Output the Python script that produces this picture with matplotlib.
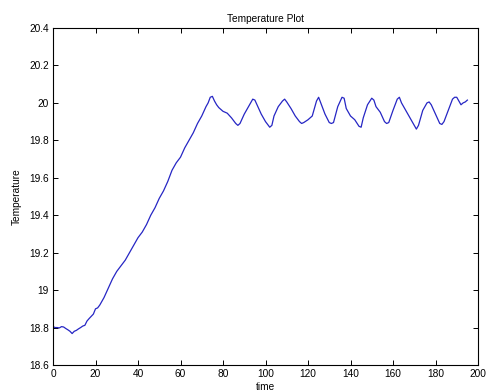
import matplotlib
matplotlib.use("Agg")
import matplotlib.pyplot as plt
from matplotlib.ticker import FuncFormatter, MultipleLocator

time = [0, 1, 2, 3, 4, 5, 6, 7, 8, 9, 10, 11, 12, 13, 14, 15, 16, 17, 18, 19,
        20, 21, 22, 24, 26, 28, 30, 32, 34, 36, 38, 40, 42, 44, 46, 48, 50,
        52, 54, 56, 58, 60, 62, 64, 66, 68, 70, 72, 73, 74, 75, 76, 77, 78,
        79, 80, 82, 84, 86, 87, 88, 90, 92, 94, 95, 96, 98, 100, 102, 103,
        104, 106, 108, 109, 110, 112, 114, 116, 117, 118, 120, 122, 124, 125,
        126, 128, 130, 131, 132, 134, 136, 137, 138, 140, 142, 144, 145, 146,
        148, 150, 151, 152, 154, 156, 157, 158, 160, 162, 163, 164, 166, 168,
        170, 171, 172, 174, 176, 177, 178, 180, 182, 183, 184, 186, 188, 189,
        190, 191, 192, 193, 194, 195]
temperature = [18.805, 18.800, 18.800, 18.798, 18.805, 18.803, 18.795, 18.788,
               18.780, 18.768, 18.780, 18.785, 18.793, 18.800, 18.808, 18.812,
               18.835, 18.848, 18.860, 18.872, 18.900, 18.905, 18.920, 18.960,
               19.010, 19.060, 19.100, 19.130, 19.160, 19.200, 19.240, 19.280,
               19.310, 19.350, 19.400, 19.440, 19.490, 19.530, 19.580, 19.640,
               19.680, 19.710, 19.760, 19.800, 19.840, 19.890, 19.930, 19.980,
               20.000, 20.030, 20.035, 20.010, 19.990, 19.975, 19.965, 19.955,
               19.945, 19.920, 19.890, 19.880, 19.890, 19.940, 19.980, 20.020,
               20.015, 19.990, 19.940, 19.900, 19.870, 19.880, 19.930, 19.980,
               20.010, 20.020, 20.005, 19.970, 19.930, 19.900, 19.890, 19.895,
               19.910, 19.930, 20.010, 20.030, 20.000, 19.940, 19.895, 19.890,
               19.895, 19.980, 20.030, 20.025, 19.970, 19.930, 19.910, 19.875,
               19.870, 19.920, 19.990, 20.025, 20.015, 19.980, 19.950, 19.900,
               19.890, 19.895, 19.960, 20.020, 20.030, 20.000, 19.960, 19.920,
               19.880, 19.860, 19.880, 19.960, 20.000, 20.005, 19.990, 19.940,
               19.890, 19.885, 19.900, 19.960, 20.020, 20.030, 20.030, 20.010,
               19.990, 20.000, 20.005, 20.015]

plt.rcParams['font.family'] = ['Liberation Sans', 'DejaVu Sans']
fig = plt.figure(figsize=(4.86, 3.92), dpi=100)
ax = fig.add_axes([53/486, 1 - 365/392, (478 - 53)/486, (365 - 28)/392])
ax.plot(time, temperature, color='#2626c4', linewidth=0.9)
ax.set_xlim(0, 200)
ax.set_ylim(18.6, 20.4)
ax.xaxis.set_major_locator(MultipleLocator(20))
ax.yaxis.set_major_locator(MultipleLocator(0.2))
ax.yaxis.set_major_formatter(FuncFormatter(lambda v, p: '%g' % round(v, 4)))
ax.xaxis.set_major_formatter(FuncFormatter(lambda v, p: '%g' % round(v, 4)))
ax.tick_params(direction='in', top=True, right=True, labelsize=7.3, length=3.8,
               width=0.7, pad=3)
for s in ax.spines.values():
    s.set_linewidth(0.8)
ax.set_title('Temperature Plot', fontsize=7.3, pad=4)
ax.set_xlabel('time', fontsize=7.3, labelpad=2)
ax.set_ylabel('Temperature', fontsize=7.3, labelpad=5)
fig.savefig('out.png', dpi=100)
